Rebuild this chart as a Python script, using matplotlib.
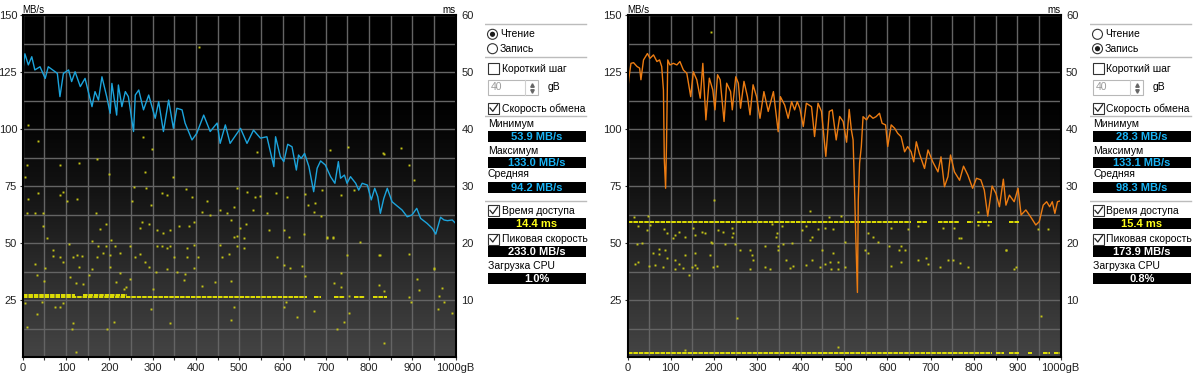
import matplotlib
matplotlib.use("Agg")
import matplotlib.pyplot as plt
import matplotlib.patches as mpatches
from matplotlib.colors import LinearSegmentedColormap
from matplotlib.ticker import MultipleLocator
import numpy as np

plt.rcParams['font.family'] = ['Liberation Sans', 'DejaVu Sans']

W, H = 1200, 376

# ---- read test (blue line), gB / MB/s
read_gb = [0, 5, 13, 21, 28, 40, 52, 59, 75, 80, 86, 94, 106, 113, 121, 133, 144, 152, 160, 167,
           175, 183, 194, 202, 206, 217, 221, 229, 237, 244, 256, 260, 268, 279, 291, 306, 314, 325,
           337, 348, 356, 368, 375, 391, 402, 418, 433, 449, 456, 468, 479, 503, 518, 533, 549, 564,
           580, 584, 595, 603, 612, 622, 632, 637, 643, 651, 661, 672, 680, 688, 699, 711, 721, 729,
           734, 743, 749, 757, 769, 776, 784, 796, 805, 813, 820, 826, 834, 842, 853, 865, 876, 888,
           899, 910, 919, 934, 946, 954, 965, 973, 981, 992, 1000]
read_mbs = [125.1, 133.0, 128.1, 131.7, 125.9, 127.3, 122.2, 127.3, 125.1, 124.4, 114.2, 124.4, 125.9,
            120.8, 125.1, 118.6, 122.2, 116.0, 109.8, 116.4, 112.7, 122.9, 114.2, 106.9, 120.0, 106.1,
            119.3, 109.8, 116.4, 114.2, 98.9, 114.9, 117.1, 108.4, 114.9, 104.7, 112.0, 98.9, 112.7,
            100.3, 109.1, 108.4, 102.6, 95.2, 98.1, 106.1, 98.9, 102.6, 93.7, 101.8, 93.7, 100.3, 93.7,
            99.5, 96.0, 96.6, 83.5, 96.6, 87.9, 85.7, 93.3, 92.2, 82.0, 88.6, 87.1, 89.3, 83.5, 72.5,
            82.8, 86.0, 84.2, 79.1, 76.2, 85.7, 78.4, 79.8, 76.2, 79.1, 76.2, 73.2, 76.2, 75.4, 68.9,
            74.0, 70.3, 63.0, 69.6, 74.0, 68.1, 66.2, 64.5, 61.5, 62.3, 65.2, 60.8, 58.6, 56.4, 53.9,
            61.3, 60.1, 59.8, 60.1, 58.6]

# ---- write test (orange line), gB / MB/s
write_gb = [0, 3, 8, 14, 22, 28, 31, 37, 46, 52, 60, 68, 74, 79, 83, 85, 88, 90, 93, 98, 106, 114,
            121, 129, 137, 146, 152, 160, 168, 174, 181, 189, 197, 202, 208, 214, 223, 229, 238, 242,
            250, 256, 261, 269, 277, 283, 290, 298, 306, 315, 325, 337, 348, 353, 363, 371, 379, 386,
            392, 398, 406, 413, 425, 432, 440, 448, 458, 466, 473, 482, 490, 498, 506, 512, 517, 521,
            525, 527, 531, 533, 536, 540, 544, 552, 559, 567, 574, 582, 588, 596, 601, 609, 617, 624,
            632, 640, 647, 655, 661, 667, 674, 686, 694, 705, 717, 724, 732, 740, 746, 755, 767, 776,
            786, 797, 806, 816, 824, 832, 842, 851, 859, 868, 874, 882, 893, 902, 909, 920, 931, 943,
            951, 960, 968, 975, 981, 987, 993, 1000]
write_mbs = [116.0, 122.0, 128.8, 129.1, 127.4, 126.7, 121.6, 130.3, 133.1, 131.0, 132.5, 129.6, 130.3,
             127.4, 117.1, 86.4, 74.0, 92.2, 130.3, 128.1, 128.8, 128.1, 129.6, 125.9, 124.4, 114.2,
             125.1, 121.6, 113.5, 128.8, 104.0, 122.3, 117.1, 108.4, 123.8, 121.6, 103.3, 120.1, 116.4,
             108.4, 122.9, 120.1, 109.1, 120.9, 114.2, 106.2, 119.4, 114.2, 104.7, 116.4, 107.7, 116.4,
             98.8, 114.2, 110.5, 104.7, 112.0, 108.4, 112.0, 109.1, 101.1, 111.3, 109.8, 96.7, 111.3,
             107.7, 88.0, 107.7, 108.4, 95.2, 105.5, 103.3, 94.2, 108.6, 99.6, 95.2, 68.9, 54.0, 28.3,
             68.9, 85.0, 92.3, 105.4, 104.0, 106.1, 104.7, 105.4, 106.9, 102.5, 101.8, 92.3, 101.8,
             100.3, 98.1, 96.6, 90.0, 92.3, 90.0, 85.6, 94.4, 89.3, 82.7, 90.8, 85.6, 81.2, 87.8, 74.7,
             79.1, 88.6, 81.2, 77.5, 83.7, 79.8, 74.0, 78.4, 77.7, 73.2, 61.8, 75.0, 71.7, 65.9, 78.0,
             66.6, 71.0, 68.1, 74.0, 62.3, 64.5, 61.5, 57.9, 59.4, 66.6, 68.1, 65.9, 68.1, 63.0, 68.1,
             68.5]

# ---- access time dots, gB / ms (read)
read_dot_gb = [11, 85, 131, 171, 200, 283, 347, 5, 36, 85, 94, 125, 103, 13, 256, 285, 322, 333, 378,
               391, 495, 518, 537, 549, 584, 611, 651, 676, 692, 734, 765, 892, 904, 834, 28, 46, 9, 48,
               55, 170, 179, 193, 160, 203, 252, 275, 271, 291, 296, 311, 324, 341, 362, 383, 395, 414,
               426, 432, 456, 472, 487, 481, 503, 516, 487, 495, 510, 533, 564, 568, 603, 614, 649, 658,
               672, 688, 703, 717, 780,
               69, 28, 34, 52, 49, 71, 86, 94, 106, 117, 126, 136, 129, 110, 123, 139, 152, 160, 171, 173,
               185, 193, 202, 202, 214, 224, 225, 216, 233, 248, 260, 271, 283, 291, 248, 239, 302, 310,
               322, 333, 341, 349, 308, 333, 356, 375, 379, 379, 395, 406, 395, 456, 460, 476, 495, 510,
               481, 445, 372, 414, 588, 603, 618, 645, 653, 719, 734, 734, 753, 823, 823, 834, 892, 915,
               911, 950, 973, 958, 992, 969,
               5, 32, 75, 86, 93, 44, 9, 117, 113, 123, 194, 211, 296, 341, 481, 487, 603, 607, 634, 672,
               726, 742, 753, 834, 896,
               12, 36, 278, 298, 408, 541, 709, 752, 833, 874, 702, 717, 749, 825, 892, 950, 961]
read_dot_ms = [33.7, 33.6, 34.0, 34.7, 32.1, 32.5, 31.5, 31.6, 28.8, 28.4, 29.0, 27.7, 27.3, 27.8, 29.8,
               29.7, 28.7, 28.4, 29.4, 28.1, 29.7, 28.9, 28.1, 28.2, 28.8, 28.0, 28.6, 27.0, 29.3, 28.4,
               29.3, 33.6, 31.0, 35.7, 25.2, 25.3, 25.2, 22.9, 20.8, 25.2, 22.5, 23.3, 20.4, 20.6, 27.4,
               23.7, 22.6, 23.3, 26.7, 22.3, 21.8, 22.2, 22.9, 23.0, 23.7, 25.5, 27.3, 24.9, 25.8, 25.2,
               26.4, 24.0, 22.7, 23.4, 21.1, 21.2, 20.8, 25.8, 25.2, 22.3, 22.3, 21.1, 21.6, 26.7, 25.5,
               24.7, 21.0, 21.0, 20.2,
               18.8, 16.4, 14.4, 15.7, 13.4, 17.7, 17.5, 16.7, 19.8, 17.6, 17.9, 17.7, 15.8, 14.1, 13.0,
               12.8, 14.4, 15.4, 17.5, 19.4, 18.2, 19.4, 17.9, 15.8, 19.4, 18.2, 14.7, 13.2, 12.0, 19.4,
               17.6, 18.0, 16.7, 15.8, 13.6, 12.3, 12.0, 19.4, 19.4, 19.2, 19.4, 17.6, 15.0, 15.4, 15.0,
               14.6, 19.2, 17.6, 19.7, 17.6, 15.6, 19.7, 17.6, 18.1, 19.4, 19.1, 13.4, 13.2, 13.5, 12.4,
               17.6, 16.1, 15.6, 16.0, 14.2, 12.9, 14.7, 12.3, 10.7, 17.9, 12.6, 11.5, 10.6, 11.8, 13.6,
               15.7, 9.7, 8.5, 7.7, 12.1,
               9.5, 7.5, 8.7, 8.8, 9.5, 9.7, 5.3, 5.9, 5.0, 0.8, 5.0, 6.2, 8.4, 5.9, 6.5, 8.8, 8.8, 9.7,
               7.1, 8.0, 5.0, 6.2, 7.7, 2.5, 9.7,
               40.7, 37.9, 38.6, 36.5, 54.4, 36.0, 36.3, 36.9, 35.8, 36.7, 20.9, 20.9, 17.9, 17.9, 18.0,
               15.5, 10.7]
# dense runs of access times (start gB, end gB, ms)
read_band_start = [0, 672, 718, 765, 810, 0, 140]
read_band_end = [657, 690, 745, 790, 842, 120, 240]
read_band_ms = [10.6, 10.6, 10.6, 10.6, 10.6, 10.95, 10.95]

# ---- access time dots, gB / ms (write)
write_dot_gb = [14, 47, 421, 465, 494, 809, 25, 45, 52, 85, 91, 106, 110, 118, 133, 152, 156, 173, 179,
                193, 210, 221, 241, 244, 241, 225, 248, 333, 344, 346, 356, 402, 413, 425, 440, 456, 475,
                502, 555, 578, 567, 609, 648, 671, 728, 755, 770, 809, 832, 947, 970,
                22, 33, 194, 317, 348, 360, 379, 421, 555, 605, 632, 628, 548, 475, 449, 874,
                72, 60, 87, 72, 133, 156, 191, 18, 25, 49, 64, 83, 110, 91, 118, 110, 129, 148, 156, 160,
                198, 206, 260, 283, 287, 290, 283, 317, 329, 348, 367, 375, 383, 413, 425, 444, 456, 467,
                471, 486, 486, 502, 609, 632, 640, 671, 690, 694, 721, 740, 751, 767, 786, 893, 141,
                252, 955, 133, 486, 192, 200, 766, 873, 897]
write_dot_ms = [24.5, 24.7, 25.7, 24.6, 24.7, 25.5, 22.9, 22.3, 23.2, 22.4, 21.7, 20.8, 21.4, 22.0, 21.1,
                22.6, 21.4, 22.0, 21.7, 20.2, 22.3, 22.0, 22.6, 21.7, 21.1, 19.9, 19.9, 23.3, 21.1, 21.7,
                23.0, 22.3, 22.9, 21.1, 22.4, 22.6, 22.4, 20.2, 21.7, 20.2, 21.1, 22.6, 22.4, 22.9, 22.6,
                22.6, 20.8, 23.2, 23.2, 22.4, 22.4,
                19.9, 20.0, 20.0, 19.4, 19.4, 19.9, 20.0, 20.6, 18.2, 19.4, 19.4, 18.7, 18.8, 18.3, 18.7,
                18.7,
                19.0, 18.3, 18.8, 18.1, 17.9, 18.2, 17.9, 16.4, 16.7, 16.0, 16.1, 15.8, 17.1, 17.3, 16.4,
                15.5, 15.7, 15.8, 16.1, 15.7, 15.8, 16.0, 18.8, 18.8, 17.9, 17.1, 15.5, 15.8, 15.5, 18.8,
                17.1, 15.7, 16.0, 16.1, 17.0, 15.8, 16.3, 16.7, 15.5, 16.7, 15.5, 15.8, 16.0, 16.7, 18.8,
                17.1, 17.3, 16.4, 15.8, 17.0, 17.1, 16.5, 15.8, 15.5, 14.4,
                6.8, 7.2, 1.3, 1.7, 57.0, 27.5, 20.9, 18.8, 15.8]
write_band_start = [0, 668, 718, 783, 808, 880, 0, 852, 880, 925, 960, 985]
write_band_end = [655, 692, 765, 797, 842, 905, 842, 870, 905, 935, 975, 1000]
write_band_ms = [23.6, 23.6, 23.6, 23.6, 23.6, 23.6, 0.7, 0.7, 0.7, 0.7, 0.7, 0.7]

read_stats = ['53.9 MB/s', '133.0 MB/s', '94.2 MB/s', '14.4 ms', '233.0 MB/s', '1.0%']
write_stats = ['28.3 MB/s', '133.1 MB/s', '98.3 MB/s', '15.4 ms', '173.9 MB/s', '0.8%']

mbs_ticks = [25, 50, 75, 100, 125, 150]
ms_ticks = [10, 20, 30, 40, 50, 60]
gb_ticks = [0, 100, 200, 300, 400, 500, 600, 700, 800, 900, 1000]
gb_labels = ['0', '100', '200', '300', '400', '500', '600', '700', '800', '900', '1000gB']

fig = plt.figure(figsize=(W / 100, H / 100), dpi=100)
bg = LinearSegmentedColormap.from_list('bg', ['#444444', '#2c2c2c', '#121212', '#000000', '#000000'])
grad = np.linspace(0, 1, 256).reshape(-1, 1)


def draw_chart(left_px, line_x, line_y, line_color, dot_x, dot_y, bs, be, bm):
    rect = [left_px / W, 19 / H, 433 / W, 342 / H]
    # lower axes: background, grid, access time (ms)
    a2 = fig.add_axes(rect)
    a2.imshow(grad, extent=[0, 1000, 0, 60], aspect='auto', origin='lower', cmap=bg, zorder=0)
    a2.set_xlim(0, 1000)
    a2.set_ylim(0, 60)
    a2.xaxis.set_major_locator(MultipleLocator(100))
    a2.xaxis.set_minor_locator(MultipleLocator(50))
    a2.yaxis.set_major_locator(MultipleLocator(10))
    a2.yaxis.set_minor_locator(MultipleLocator(5))
    a2.grid(True, which='both', color='#646464', lw=1)
    a2.set_axisbelow(True)
    a2.yaxis.tick_right()
    a2.set_yticks(ms_ticks)
    a2.tick_params(axis='y', which='both', length=0, pad=4, labelsize=8, colors='#222222')
    a2.tick_params(axis='x', which='both', length=0, labelbottom=False)
    for s in a2.spines.values():
        s.set_visible(False)
    a2.hlines(bm, bs, be, colors='#eeee00', lw=1.3, linestyles=(0, (2.5, 0.5)), zorder=2)
    a2.plot(dot_x, dot_y, 's', color='#c4c418', markersize=1.4, markeredgewidth=0, zorder=2)
    a2.text(1.0, 1.0, 'ms', transform=a2.transAxes, ha='right', va='bottom', fontsize=7)

    # upper axes: transfer rate (MB/s)
    a1 = fig.add_axes(rect)
    a1.set_zorder(a2.get_zorder() + 1)
    a1.patch.set_visible(False)
    a1.plot(line_x, line_y, color=line_color, lw=1.0)
    a1.set_xlim(0, 1000)
    a1.set_ylim(0, 150)
    a1.set_yticks(mbs_ticks)
    a1.set_xticks(gb_ticks)
    a1.set_xticklabels(gb_labels)
    a1.xaxis.set_minor_locator(MultipleLocator(50))
    a1.tick_params(axis='both', which='both', length=2, width=0.8, color='#333333',
                   pad=2, labelsize=8, labelcolor='#222222')
    for s in a1.spines.values():
        s.set_color('#000000')
        s.set_linewidth(1.5)
    a1.text(0.0, 1.0, 'MB/s', transform=a1.transAxes, ha='left', va='bottom', fontsize=7)


def draw_side(x0, read_on, stats):
    p = fig.add_axes([x0 / W, 0, 110 / W, 1])
    p.set_xlim(x0, x0 + 110)
    p.set_ylim(H, 0)
    p.axis('off')
    fs = 7.5
    for yy in [24.3, 56.7, 115.7, 200.7]:
        p.plot([x0, x0 + 101], [yy, yy], color='#bcbcbc', lw=1)

    # radio buttons
    for yc, label, on in [(34.3, 'Чтение', read_on), (48.7, 'Запись', not read_on)]:
        p.add_patch(mpatches.Circle((x0 + 7.5, yc), 5, facecolor='white', edgecolor='#333333', lw=0.8))
        if on:
            p.add_patch(mpatches.Circle((x0 + 7.5, yc), 2.6, facecolor='#1a1a1a', edgecolor='none'))
        p.text(x0 + 15, yc, label, fontsize=fs, va='center', ha='left')

    def checkbox(yc, label, checked):
        p.add_patch(mpatches.Rectangle((x0 + 3, yc - 5.5), 11, 11, facecolor='white',
                                       edgecolor='#333333', lw=0.8))
        if checked:
            p.plot([x0 + 5, x0 + 7.8, x0 + 12.5], [yc - 0.3, yc + 3, yc - 3.6], color='#222222', lw=0.9)
        p.text(x0 + 16.5, yc, label, fontsize=fs, va='center', ha='left')

    checkbox(68.7, 'Короткий шаг', False)
    # spin box
    p.add_patch(mpatches.Rectangle((x0 + 3, 79.5), 50, 15.5, facecolor='white', edgecolor='#b8b8b8', lw=0.8))
    p.plot([x0 + 40, x0 + 40], [80, 94.5], color='#d0d0d0', lw=0.8)
    p.text(x0 + 6, 87.5, '40', fontsize=fs, va='center', color='#9a9a9a')
    p.plot([x0 + 46.5], [84.5], '^', color='#666666', markersize=2.5)
    p.plot([x0 + 46.5], [90.5], 'v', color='#666666', markersize=2.5)
    p.text(x0 + 63, 87.5, 'gB', fontsize=fs, va='center')
    checkbox(108.3, 'Скорость обмена', True)

    def valbox(y0, y1, text, color):
        p.add_patch(mpatches.Rectangle((x0 + 3, y0), 98, y1 - y0, facecolor='black', edgecolor='none'))
        p.text(x0 + 52, (y0 + y1) / 2 + 0.3, text, fontsize=8, fontweight='bold', color=color,
               ha='center', va='center')

    p.text(x0 + 3, 124, 'Минимум', fontsize=fs, va='center')
    valbox(130.7, 141.7, stats[0], '#1ab4f5')
    p.text(x0 + 3, 150.7, 'Максимум', fontsize=fs, va='center')
    valbox(157.3, 168.3, stats[1], '#1ab4f5')
    p.text(x0 + 3, 174.3, 'Средняя', fontsize=fs, va='center')
    valbox(181.7, 193.3, stats[2], '#1ab4f5')
    checkbox(210.7, 'Время доступа', True)
    valbox(218.3, 229.3, stats[3], '#ffff1a')
    checkbox(239, 'Пиковая скорость', True)
    valbox(246, 257.3, stats[4], '#ffffff')
    p.text(x0 + 3, 265.7, 'Загрузка CPU', fontsize=fs, va='center')
    valbox(272.7, 284, stats[5], '#ffffff')


draw_chart(22.7, read_gb, read_mbs, '#1ca4dc', read_dot_gb, read_dot_ms,
           read_band_start, read_band_end, read_band_ms)
draw_chart(627.5, write_gb, write_mbs, '#ec7c12', write_dot_gb, write_dot_ms,
           write_band_start, write_band_end, write_band_ms)
draw_side(485, True, read_stats)
draw_side(1090, False, write_stats)

fig.savefig('out.png', dpi=100, facecolor='white')
